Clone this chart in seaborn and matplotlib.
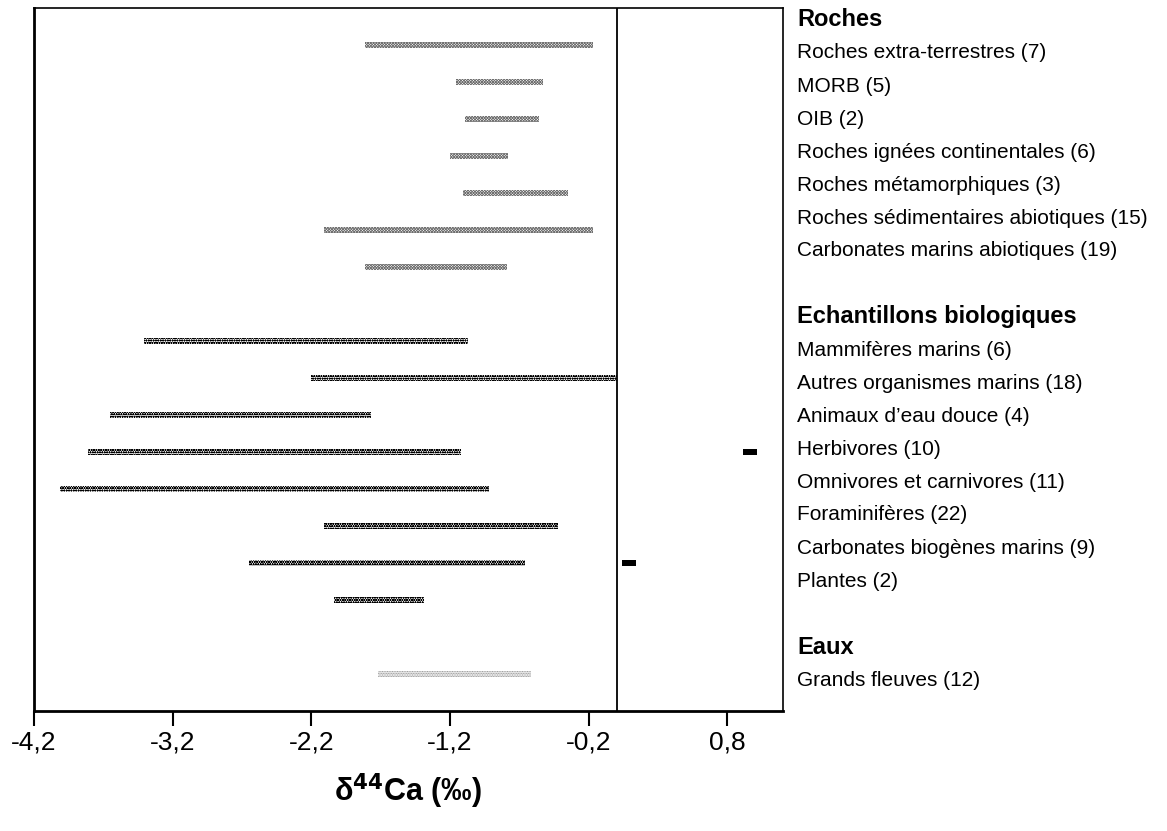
import matplotlib
matplotlib.use("Agg")
import matplotlib.pyplot as plt
import seaborn as sns
import pandas as pd

# rows of the chart, top to bottom (None = blank separator row)
rows = ["Roches extra-terrestres", "MORB", "OIB", "Roches ignées continentales",
        "Roches métamorphiques", "Roches sédimentaires abiotiques",
        "Carbonates marins abiotiques", None,
        "Mammifères marins", "Autres organismes marins", "Animaux d'eau douce",
        "Herbivores", "Omnivores et carnivores", "Foraminifères",
        "Carbonates biogènes marins", "Plantes", None,
        "Grands fleuves"]
groups = ["roche"] * 7 + [None] + ["bio"] * 8 + [None] + ["eau"]
low = [-1.81, -1.16, -1.09, -1.20, -1.11, -2.11, -1.81, None,
       -3.41, -2.20, -3.65, -3.81, -4.01, -2.11, -2.65, -2.04, None,
       -1.72]
high = [-0.17, -0.53, -0.56, -0.78, -0.35, -0.17, -0.79, None,
        -1.07, 0.00, -1.77, -1.12, -0.92, -0.42, -0.66, -1.39, None,
        -0.62]

# isolated single values
point_rows = ["Herbivores", "Carbonates biogènes marins"]
point_vals = [0.96, 0.09]

legend_lines = [
    ("Roches", True),
    ("Roches extra-terrestres (7)", False),
    ("MORB (5)", False),
    ("OIB (2)", False),
    ("Roches ignées continentales (6)", False),
    ("Roches métamorphiques (3)", False),
    ("Roches sédimentaires abiotiques (15)", False),
    ("Carbonates marins abiotiques (19)", False),
    ("", False),
    ("Echantillons biologiques", True),
    ("Mammifères marins (6)", False),
    ("Autres organismes marins (18)", False),
    ("Animaux d\u2019eau douce (4)", False),
    ("Herbivores (10)", False),
    ("Omnivores et carnivores (11)", False),
    ("Foraminifères (22)", False),
    ("Carbonates biogènes marins (9)", False),
    ("Plantes (2)", False),
    ("", False),
    ("Eaux", True),
    ("Grands fleuves (12)", False),
]

xticks = [-4.2, -3.2, -2.2, -1.2, -0.2, 0.8]

sns.set_style("white")
plt.rcParams['font.family'] = ['Liberation Sans', 'DejaVu Sans']
plt.rcParams['text.color'] = 'black'
plt.rcParams['xtick.color'] = 'black'
plt.rcParams['axes.labelcolor'] = 'black'
plt.rcParams['hatch.linewidth'] = 0.6

styles = {
    "roche": dict(edgecolor="#6e6e6e", hatch="x" * 12),
    "bio": dict(edgecolor="#000000", hatch="o" * 7),
    "eau": dict(edgecolor="#7a7a7a", hatch="." * 10),
}

fig = plt.figure(figsize=(11.67, 8.31), dpi=100)
ax = fig.add_axes([0.0291, 0.1444, 0.6418, 0.846])

for i, (g, lo, hi) in enumerate(zip(groups, low, high)):
    if g is None:
        continue
    ax.barh(i, hi - lo, left=lo, height=0.14, facecolor="white",
            linewidth=0, **styles[g])

pts = pd.DataFrame({"val": point_vals,
                    "row": [rows.index(r) for r in point_rows]})
dash = [(-1.3, -0.5), (1.3, -0.5), (1.3, 0.5), (-1.3, 0.5), (-1.3, -0.5)]
sns.scatterplot(data=pts, x="val", y="row", marker=dash, s=90,
                color="black", linewidth=0, ax=ax, legend=False)

ax.axvline(0, color="black", lw=1.3)
ax.set_xlim(-4.2, 1.2)
ax.set_ylim(18, -1)
ax.set_yticks([])
ax.set_xticks(xticks)
ax.set_xticklabels([f"{t:.1f}".replace(".", ",") for t in xticks], fontsize=19)
ax.tick_params(axis="x", direction="out", length=11, width=1.5, pad=3,
               bottom=True)
ax.set_ylabel("")
for s in ["left", "bottom"]:
    ax.spines[s].set_linewidth(2)
for s in ["top", "right"]:
    ax.spines[s].set_linewidth(1.2)
for s in ax.spines.values():
    s.set_color("black")

ax.set_xlabel(r"δ$^{\mathbf{44}}$Ca (‰)", fontsize=22, fontweight="bold",
              labelpad=12)

# legend column at the right
y0 = 1 - 20 / 831
step = 33 / 831
for k, (txt, bold) in enumerate(legend_lines):
    fig.text(797 / 1167, y0 - k * step, txt, fontsize=17 if bold else 15,
             fontweight="bold" if bold else "normal", va="center", ha="left")

fig.savefig("out.png", dpi=100)
